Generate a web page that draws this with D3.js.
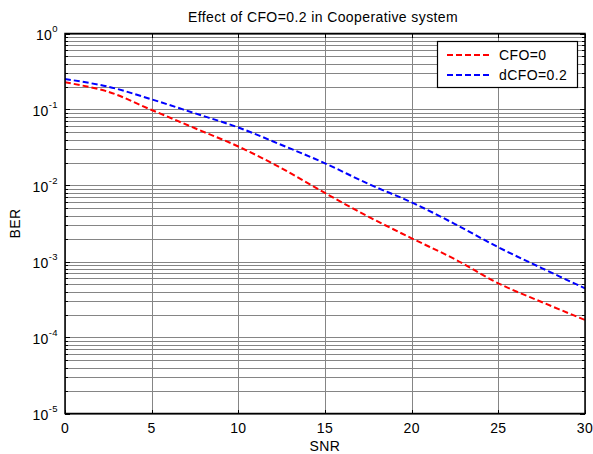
<!DOCTYPE html>
<html><head><meta charset="utf-8">
<script src="https://cdn.jsdelivr.net/npm/d3@7"></script>
<style>body{margin:0;background:#fff}svg{display:block}text{font-family:"Liberation Sans",Arial,sans-serif;letter-spacing:0.4px}</style>
</head><body>
<script>
const snr = [0, 2.5, 5, 7.5, 10, 12.5, 15, 17.5, 20, 22.5, 25, 27.5, 30];
const berCFO0 = [0.228, 0.171, 0.0985, 0.0566, 0.0326, 0.01684, 0.00797, 0.00389, 0.00202, 0.00107, 0.000516, 0.000293, 0.000170];
const berCFO02 = [0.252, 0.1995, 0.136, 0.0891, 0.058, 0.0341, 0.0196, 0.0105, 0.0060, 0.00311, 0.00154, 0.00082, 0.000444];
const xTicks = [0, 5, 10, 15, 20, 25, 30];
const yExps = [0, -1, -2, -3, -4, -5];
const seriesNames = ["CFO=0", "dCFO=0.2"];
const seriesColors = ["#ff0000", "#0000ff"];
const titleText = "Effect of CFO=0.2 in Cooperative system";

const W = 593, H = 454;
const m = {l: 65, r: 8, t: 33.5, b: 40.5};
const svg = d3.select("body").append("svg").attr("width", W).attr("height", H);
const x = d3.scaleLinear().domain([0, 30]).range([m.l, W - m.r]);
const y = d3.scaleLog().domain([1e-5, 1]).range([H - m.b, m.t]);
const x0 = x.range()[0], x1 = x.range()[1], y0 = y.range()[0], y1 = y.range()[1];

const yMinor = [];
for (let e = -5; e < 0; e++) for (let k = 1; k <= 9; k++) yMinor.push(k * Math.pow(10, e));
yMinor.push(1);

const grid = svg.append("g").attr("stroke", "#858585").attr("stroke-width", 1).attr("shape-rendering", "crispEdges");
grid.selectAll("line.h").data(yMinor).join("line")
  .attr("x1", x0).attr("x2", x1).attr("y1", d => Math.round(y(d)) + 0.5).attr("y2", d => Math.round(y(d)) + 0.5);
grid.selectAll("line.v").data(xTicks).join("line")
  .attr("y1", y0).attr("y2", y1).attr("x1", d => Math.round(x(d)) + 0.5).attr("x2", d => Math.round(x(d)) + 0.5);

const tk = svg.append("g").attr("stroke", "#000").attr("stroke-width", 1).attr("shape-rendering", "crispEdges");
xTicks.forEach(d => {
  const px = Math.round(x(d)) + 0.5;
  tk.append("line").attr("x1", px).attr("x2", px).attr("y1", y0).attr("y2", y0 - 4);
  tk.append("line").attr("x1", px).attr("x2", px).attr("y1", y1).attr("y2", y1 + 4);
});
yMinor.forEach(d => {
  const py = Math.round(y(d)) + 0.5;
  const major = Math.abs(Math.log10(d) - Math.round(Math.log10(d))) < 1e-9;
  const L = major ? 5 : 3;
  tk.append("line").attr("x1", x0).attr("x2", x0 + L).attr("y1", py).attr("y2", py);
  tk.append("line").attr("x1", x1).attr("x2", x1 - L).attr("y1", py).attr("y2", py);
});

const line = d3.line().x(d => x(d[0])).y(d => y(d[1])).curve(d3.curveCatmullRom.alpha(0.5));
[berCFO0, berCFO02].forEach((s, i) => {
  svg.append("path").datum(snr.map((v, j) => [v, s[j]]))
    .attr("fill", "none").attr("stroke", seriesColors[i]).attr("stroke-width", 2)
    .attr("stroke-dasharray", "6,3").attr("d", line);
});

svg.append("rect").attr("x", x0).attr("y", y1).attr("width", x1 - x0).attr("height", y0 - y1)
  .attr("fill", "none").attr("stroke", "#000").attr("stroke-width", 1.5);

svg.append("g").selectAll("text").data(xTicks).join("text")
  .attr("x", d => x(d)).attr("y", 433).attr("text-anchor", "middle")
  .attr("font-size", 14).text(d => d);
const yl = svg.append("g");
yExps.forEach(e => {
  const t = yl.append("text").attr("x", 58).attr("y", y(Math.pow(10, e)) + 6).attr("text-anchor", "end").attr("font-size", 14);
  t.append("tspan").text("10");
  t.append("tspan").attr("font-size", 9.5).attr("dy", -7.5).text(e);
});

svg.append("text").attr("x", (x0 + x1) / 2).attr("y", 451).attr("text-anchor", "middle").attr("font-size", 14).text("SNR");
svg.append("text").attr("transform", `translate(19.5,${(y0 + y1) / 2}) rotate(-90)`).attr("text-anchor", "middle").attr("font-size", 14).text("BER");
svg.append("text").attr("x", (x0 + x1) / 2 - 2).attr("y", 22).attr("text-anchor", "middle").attr("font-size", 14).text(titleText);

const lg = svg.append("g");
lg.append("rect").attr("x", 437.5).attr("y", 41.5).attr("width", 140).attr("height", 46)
  .attr("fill", "#fff").attr("stroke", "#000").attr("stroke-width", 1.2);
seriesNames.forEach((n, i) => {
  const yy = 55 + i * 20;
  lg.append("line").attr("x1", 447).attr("x2", 492).attr("y1", yy).attr("y2", yy)
    .attr("stroke", seriesColors[i]).attr("stroke-width", 2).attr("stroke-dasharray", "6,3");
  lg.append("text").attr("x", 499).attr("y", yy + 5).attr("font-size", 14).text(n);
});
</script>
</body></html>
